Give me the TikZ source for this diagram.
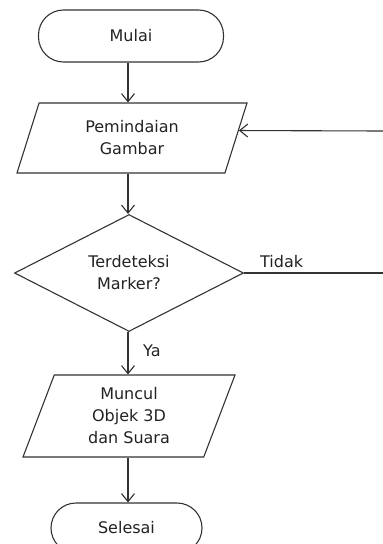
\documentclass[tikz,border=0pt]{standalone}
\usepackage{fontspec}
\setmainfont{DejaVu Sans}
\usetikzlibrary{shapes.geometric,arrows.meta}
\definecolor{linecol}{HTML}{333333}
\definecolor{txtcol}{HTML}{222222}
\tikzset{
  base/.style={draw=linecol, line width=1.1pt, text=txtcol, font=\fontsize{16}{22}\selectfont, align=center, inner sep=0pt},
  terminal/.style={base, rectangle, rounded corners=25pt},
  iobox/.style={base, trapezium, trapezium stretches body},
  decision/.style={base, diamond, aspect=1.96},
  flow/.style={draw=linecol, line width=1.1pt, -{Straight Barb[length=8pt,width=13pt,line width=1.1pt]}},
  plain/.style={draw=linecol, line width=1.1pt},
  lbl/.style={text=txtcol, font=\fontsize{16}{22}\selectfont, inner sep=0pt}
}
\begin{document}
\begin{tikzpicture}[x=1pt,y=-1pt]
\useasboundingbox (0,0) rectangle (383,544);
\clip (0,0) rectangle (383,544);
\node[terminal, minimum width=185pt, minimum height=52pt] (start) at (131,36) {Mulai};
\node[iobox, trapezium left angle=57.3, trapezium right angle=122.7, minimum width=230pt, minimum height=70pt] (scan) at (132,138) {Pemindaian\\Gambar};
\node[decision, minimum width=229pt, minimum height=117pt] (dec) at (129,273) {Terdeteksi\\Marker?};
\node[iobox, trapezium left angle=61, trapezium right angle=119, minimum width=212pt, minimum height=82pt] (show) at (129,416) {Muncul\\Objek 3D\\dan Suara};
\node[terminal, minimum width=151pt, minimum height=50pt] (end) at (126.5,528) {Selesai};
\coordinate (backin) at (383,131);
\coordinate (backout) at (383,273);
\node[lbl, anchor=base west] (tidak) at (260,267) {Tidak};
\node[lbl, anchor=base west] (ya) at (143,356) {Ya};
\draw[flow] (start.south -| 128,0) -- (scan.north -| 128,0);
\draw[flow] (scan.south -| 128,0) -- (dec.north -| 128,0);
\draw[flow] (dec.south -| 128,0) -- (show.north -| 128,0);
\draw[flow] (show.south -| 128,0) -- (end.north -| 128,0);
\draw[flow] (backin) -- (scan.4.7);
\draw[plain] (dec.east) -- (backout);
\end{tikzpicture}
\end{document}
